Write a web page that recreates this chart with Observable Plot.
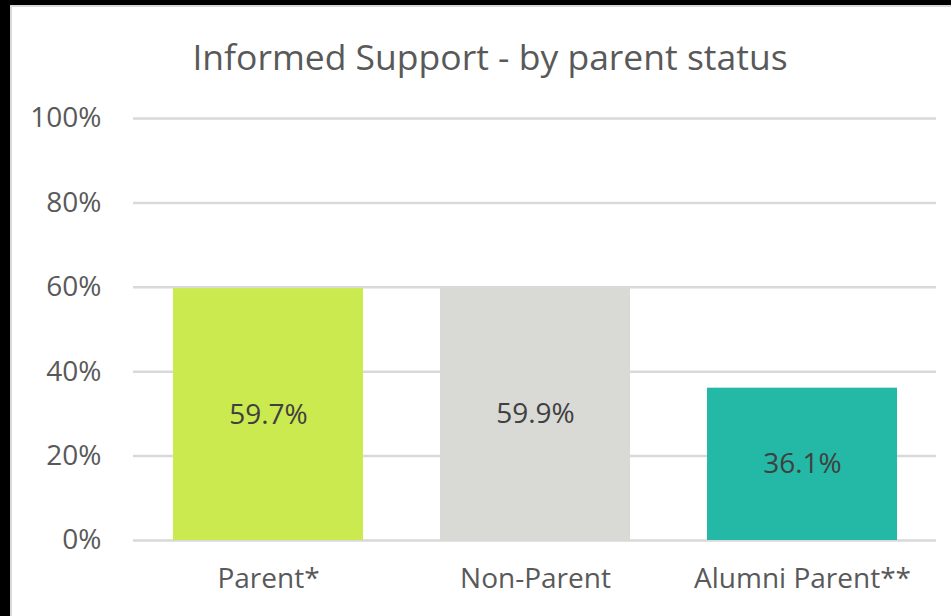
<!DOCTYPE html>
<html>
<head>
<meta charset="utf-8">
<script src="https://cdn.jsdelivr.net/npm/d3@7"></script>
<script src="https://cdn.jsdelivr.net/npm/@observablehq/plot@0.6"></script>
<style>
  html, body { margin: 0; padding: 0; background: #000; width: 951px; height: 616px; overflow: hidden; }
  #frame { position: absolute; left: 10px; top: 5px; width: 941px; height: 611px; background: #d9d9d9; }
  #card { position: absolute; left: 2px; top: 2px; width: 939px; height: 609px; background: #fff; }
  #title { position: absolute; left: 0; top: 29px; width: 956px; text-align: center; font-family: "Open Sans", sans-serif; font-size: 35.5px; color: #595959; line-height: 40px; white-space: nowrap; }
  #chart { position: absolute; left: 0; top: 83px; }
</style>
</head>
<body>
<div id="frame"><div id="card">
  <div id="title">Informed Support - by parent status</div>
  <div id="chart"></div>
</div></div>
<script>
const categories = ["Parent*", "Non-Parent", "Alumni Parent**"];
const values = [0.597, 0.599, 0.361];
const colors = ["#cbea50", "#d9d9d6", "#24b9a6"];
const yTicks = [0, 0.2, 0.4, 0.6, 0.8, 1.0];

const data = categories.map((c, i) => ({category: c, value: values[i], color: colors[i]}));

const chart = Plot.plot({
  width: 939,
  height: 533,
  marginTop: 28,
  marginBottom: 83,
  marginLeft: 121,
  marginRight: 15,
  style: { fontFamily: "'Open Sans', sans-serif", background: "#fff" },
  x: { domain: categories, paddingInner: 0.29, paddingOuter: 0.145, label: null },
  y: { domain: [0, 1], label: null },
  marks: [
    Plot.gridY(yTicks, { stroke: "#d9d9d9", strokeOpacity: 1, strokeWidth: 2.5 }),
    Plot.barY(data, { x: "category", y: "value", fill: "color" }),
    Plot.text(data, {
      x: "category", y: d => d.value / 2, text: d => (d.value * 100).toFixed(1) + "%",
      fill: "#404040", fontSize: 28
    }),
    Plot.axisY(yTicks, {
      tickSize: 0, tickPadding: 32, tickFormat: d => Math.round(d * 100) + "%",
      fontSize: 28, color: "#595959", label: null
    }),
    Plot.axisX({ tickSize: 0, tickPadding: 28, fontSize: 28, color: "#595959", label: null })
  ]
});
d3.select(chart).selectAll("[aria-label='y-axis tick label'] text, [aria-label='x-axis tick label'] text").attr("fill", "#595959");
document.getElementById("chart").appendChild(chart);
</script>
</body>
</html>
